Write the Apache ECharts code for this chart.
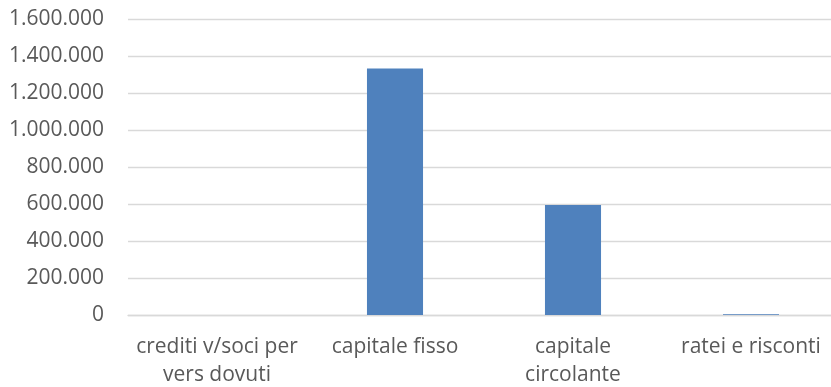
<!DOCTYPE html>
<html>
<head>
<meta charset="utf-8">
<script src="https://cdn.jsdelivr.net/npm/echarts@6/dist/echarts.min.js"></script>
<style>
  html, body { margin: 0; padding: 0; background: #fff; }
  #chart { width: 831px; height: 387px; }
</style>
</head>
<body>
<div id="chart"></div>
<script>
const categories = ['crediti v/soci per\nvers dovuti', 'capitale fisso', 'capitale\ncircolante', 'ratei e risconti'];
const values = [0, 1333000, 595000, 4000];
const yMin = 0;
const yMax = 1600000;
const yStep = 200000;

// punto come separatore delle migliaia
function fmt(v) {
  return String(v).replace(/\B(?=(\d{3})+(?!\d))/g, '.');
}

const chart = echarts.init(document.getElementById('chart'));
chart.setOption({
  animation: false,
  textStyle: { fontFamily: 'Open Sans' },
  grid: {
    left: 128,
    right: -9,
    top: 19,
    bottom: 72,
    outerBoundsMode: 'none',
  },
  xAxis: {
    type: 'category',
    data: categories,
    axisTick: { show: false },
    axisLine: { lineStyle: { color: '#d9d9d9', width: 1.3 } },
    axisLabel: {
      color: '#595959',
      fontSize: 21,
      lineHeight: 28,
      margin: 18,
      interval: 0,
    },
  },
  yAxis: {
    type: 'value',
    min: yMin,
    max: yMax,
    interval: yStep,
    axisLine: { show: false },
    axisTick: { show: false },
    splitLine: { lineStyle: { color: '#d9d9d9', width: 1.3 } },
    axisLabel: {
      color: '#595959',
      fontSize: 21,
      margin: 24,
      formatter: fmt,
    },
  },
  series: [
    {
      type: 'bar',
      data: values,
      barWidth: '31.5%',
      itemStyle: { color: '#4f81bd' },
    },
  ],
});
</script>
</body>
</html>
